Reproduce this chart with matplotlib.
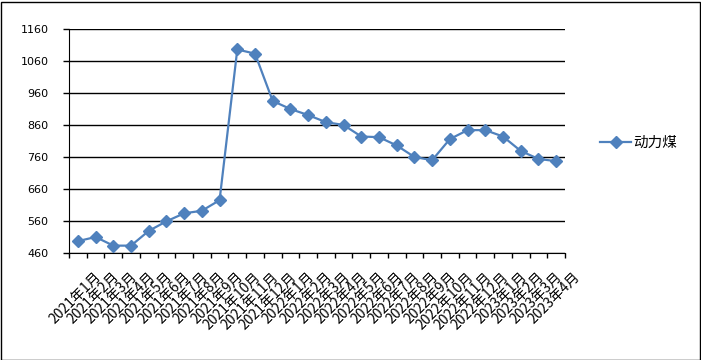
import matplotlib
matplotlib.use("Agg")
import matplotlib.pyplot as plt
from matplotlib.patches import Rectangle
from matplotlib.lines import Line2D
from matplotlib.transforms import ScaledTranslation

months = (["2021年%d月" % m for m in range(1, 13)] +
          ["2022年%d月" % m for m in range(1, 13)] +
          ["2023年%d月" % m for m in range(1, 5)])
values = [497, 510, 483, 483, 529, 559, 584, 592, 625, 1096, 1083, 935, 910, 891,
          869, 860, 824, 822, 796, 760, 750, 816, 844, 844, 824, 779, 754, 747]
yticks = [460, 560, 660, 760, 860, 960, 1060, 1160]
series_name = "动力煤"

W, H = 701, 360
fig = plt.figure(figsize=(W / 100, H / 100), dpi=100)
ax = fig.add_axes([69 / W, 1 - 253 / H, (565 - 69) / W, (253 - 29) / H])

cjk = ['Noto Sans CJK SC', 'DejaVu Sans']
color = '#4F81BD'
x = list(range(len(values)))
ax.plot(x, values, color=color, lw=1.6, marker='D', markersize=6.5,
        markerfacecolor=color, markeredgecolor=color, zorder=3, clip_on=False)

ax.set_ylim(460, 1160)
ax.set_xlim(-0.5, len(values) - 0.5)
ax.set_yticks(yticks)
ax.set_yticklabels([str(v) for v in yticks], fontfamily='DejaVu Sans', fontsize=8)
ax.yaxis.grid(True, color='black', lw=1)
ax.set_axisbelow(True)

# category labels (Excel-like placement, rotated 45 degrees)
ax.set_xticks(x)
ax.set_xticklabels([''] * len(x))
ax.tick_params(axis='x', which='major', length=0)
off = ScaledTranslation(0.215, -0.215, fig.dpi_scale_trans)
for xi, lab in zip(x, months):
    ax.text(xi, 0, lab, transform=ax.get_xaxis_transform() + off,
            rotation=45, rotation_mode='anchor', ha='right', va='center',
            fontsize=10, fontfamily=cjk, clip_on=False)

ax.set_xticks([i - 0.5 for i in range(len(values) + 1)], minor=True)
ax.tick_params(axis='x', which='minor', length=3.6, width=1, direction='out')
ax.tick_params(axis='y', length=4.3, width=1, direction='out', pad=10.5)

for s in ['top', 'right']:
    ax.spines[s].set_visible(False)
ax.spines['left'].set_color('black')
ax.spines['bottom'].set_color('black')

# legend
leg_handle = Line2D([], [], color=color, lw=1.6, marker='D', markersize=6.5,
                    markerfacecolor=color, markeredgecolor=color)
fig.legend([leg_handle], [series_name], loc='center left',
           bbox_to_anchor=(600 / W, 1 - 143 / H), frameon=False,
           prop={'family': cjk, 'size': 10.5}, handlelength=2.15,
           handletextpad=0.1, borderpad=0, borderaxespad=0)

fig.add_artist(Rectangle((0.5 / W, 0.5 / H), (W - 2) / W, (H - 2) / H,
                         transform=fig.transFigure, fill=False, ec='black', lw=1))

fig.savefig("out.png", dpi=100)
